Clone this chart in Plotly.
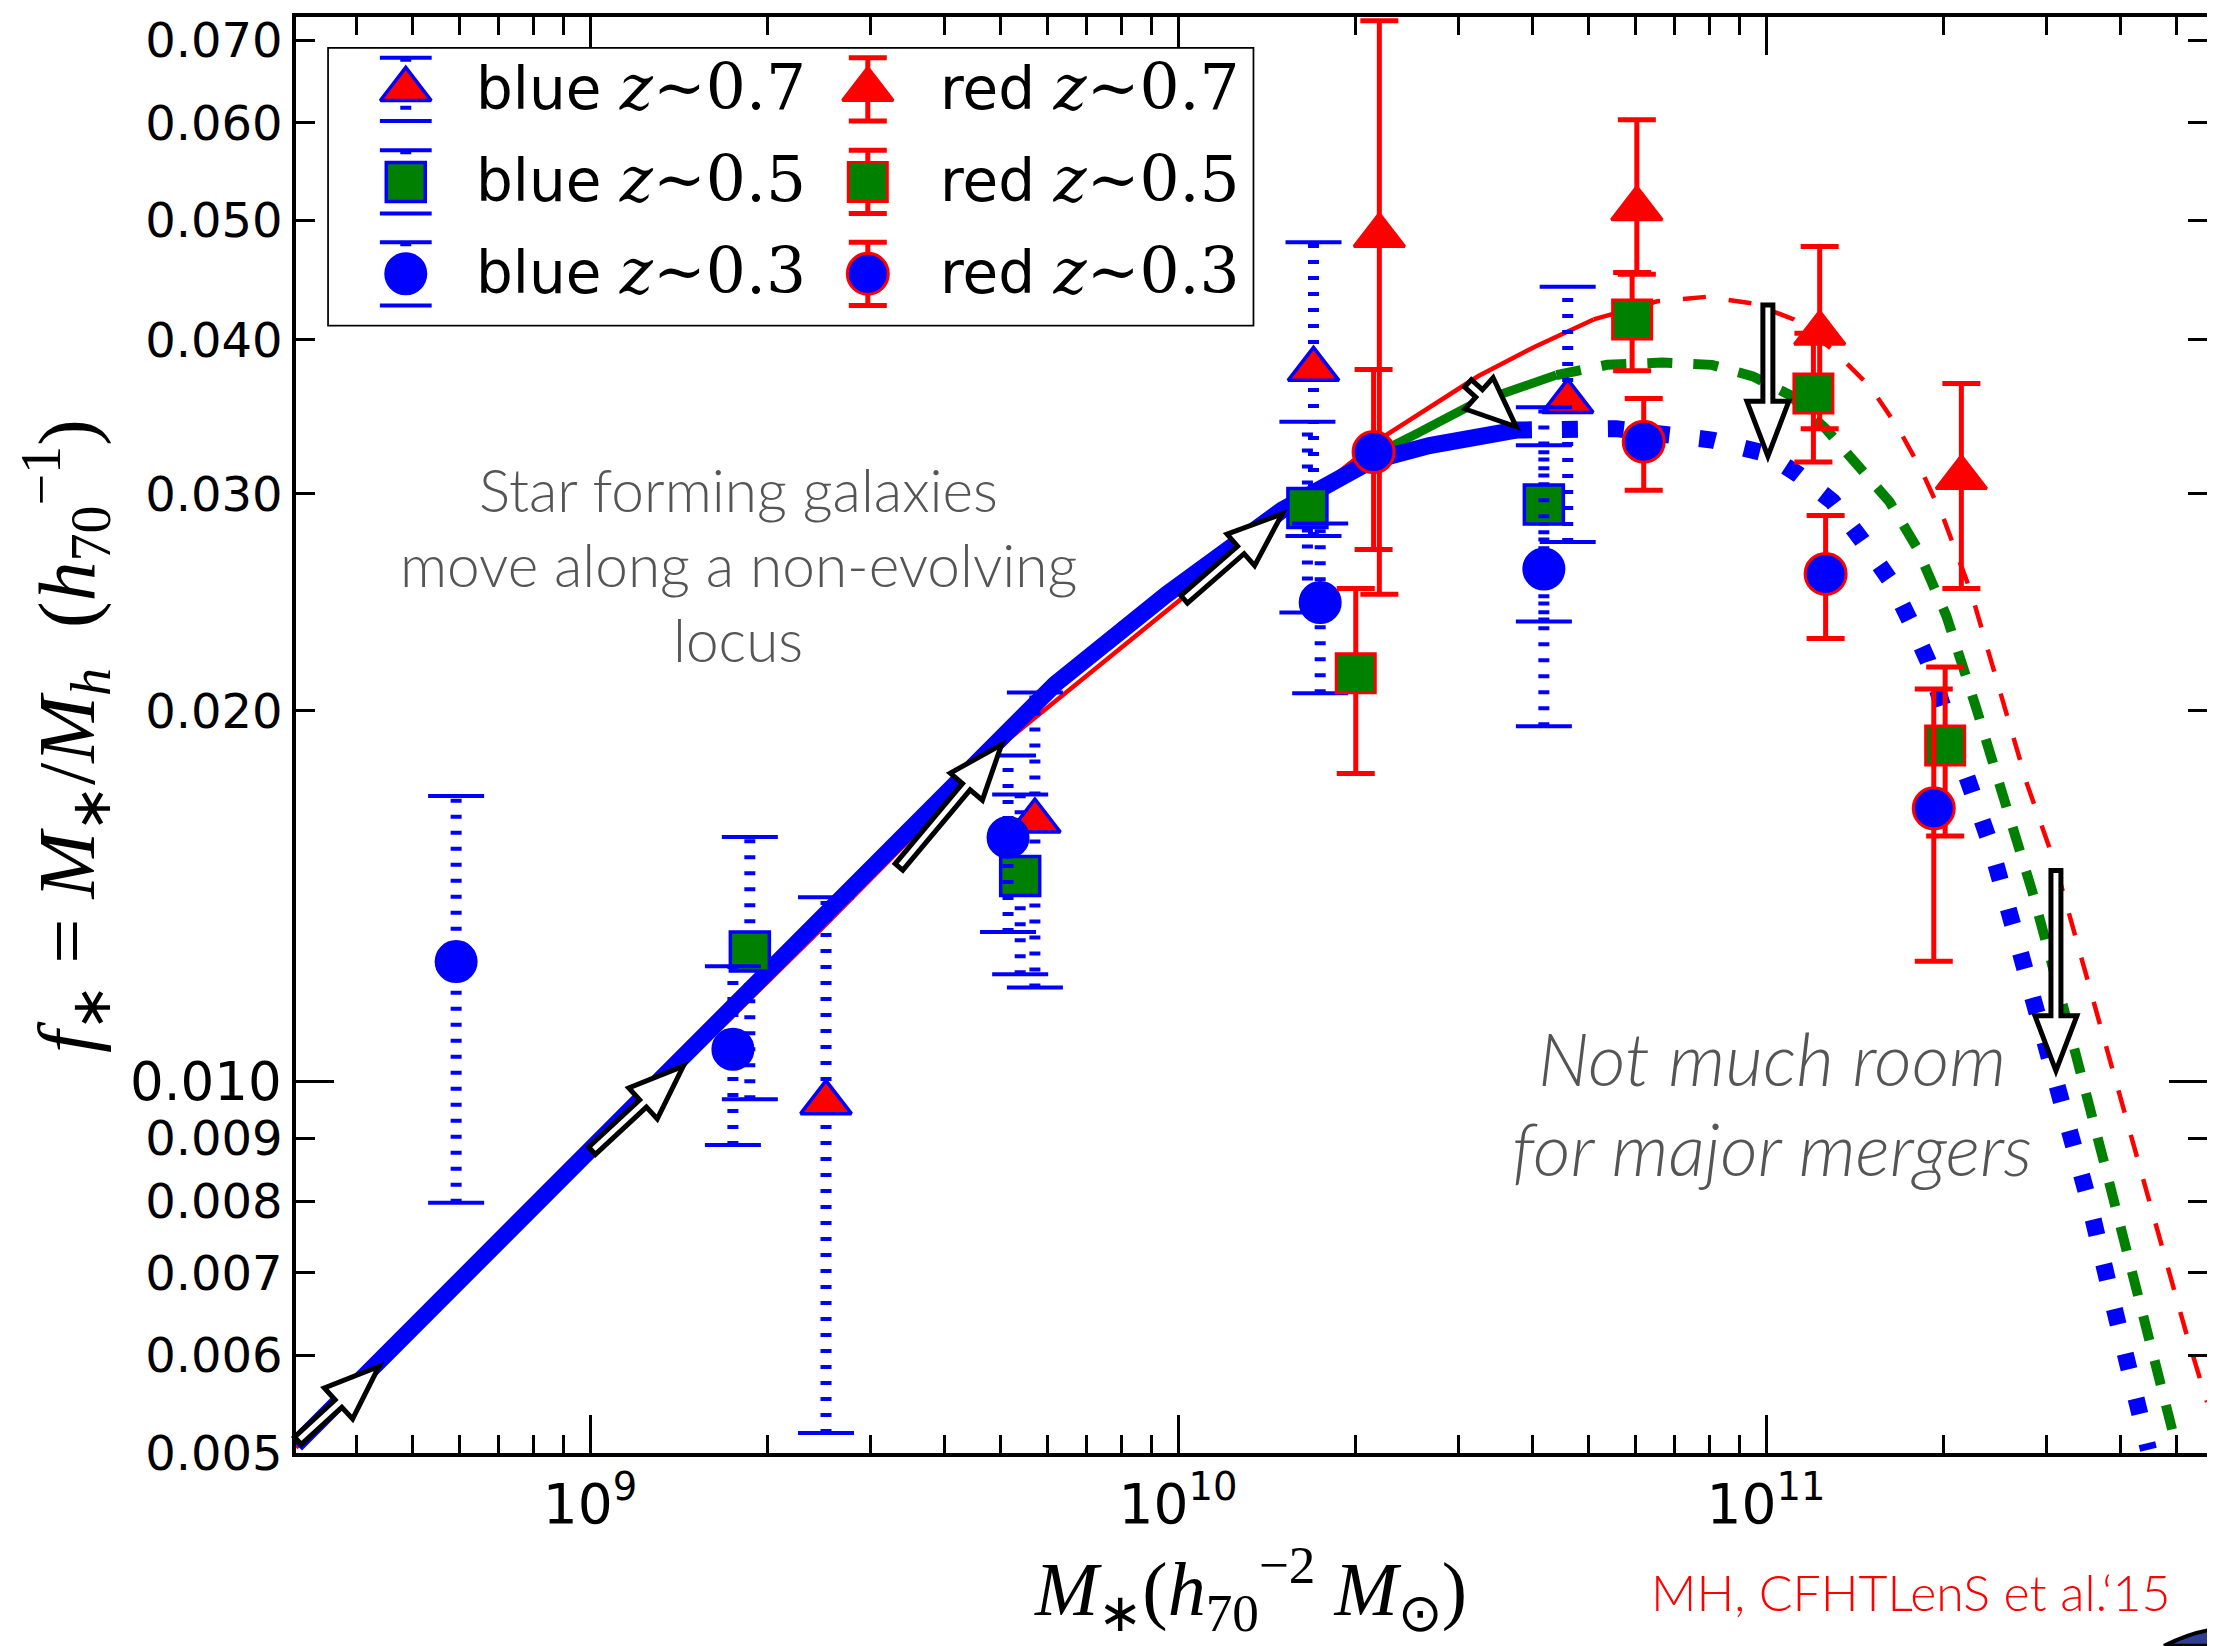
import math
import plotly.graph_objects as go

# ---------------- observations: stellar mass (h70^-2 Msun), f* and error-bar ends ----------------
blue07_mass = [2.52e9, 5.71e9, 1.70e10, 4.60e10]
blue07_fstar = [0.00962, 0.01628, 0.03785, 0.03565]
blue07_upper = [0.01412, 0.02070, 0.04799, 0.04417]
blue07_lower = [0.00519, 0.01193, 0.02773, 0.02742]

blue05_mass = [1.87e9, 5.39e9, 1.66e10, 4.19e10]
blue05_fstar = [0.01276, 0.01469, 0.02921, 0.02940]
blue05_upper = [0.01580, 0.01711, 0.03432, 0.03526]
blue05_lower = [0.00968, 0.01223, 0.02403, 0.02363]

blue03_mass = [5.92e8, 1.75e9, 5.14e9, 1.745e10, 4.19e10]
blue03_fstar = [0.01252, 0.01063, 0.01579, 0.02449, 0.02607]
blue03_upper = [0.01706, 0.01241, 0.01840, 0.02838, 0.03284]
blue03_lower = [0.00798, 0.00889, 0.01323, 0.02067, 0.01943]

red07_mass = [2.20e10, 6.03e10, 1.234e11, 2.149e11]
red07_fstar = [0.04861, 0.05110, 0.04050, 0.03092]
red07_upper = [0.07260, 0.06033, 0.04762, 0.03687]
red07_lower = [0.02487, 0.04520, 0.03387, 0.02514]

red05_mass = [2.006e10, 5.92e10, 1.204e11, 2.017e11]
red05_fstar = [0.02146, 0.04155, 0.03618, 0.01875]
red05_upper = [0.02514, 0.04535, 0.04050, 0.02171]
red05_lower = [0.01779, 0.03776, 0.03183, 0.01583]

red03_mass = [2.151e10, 6.195e10, 1.263e11, 1.929e11]
red03_fstar = [0.03243, 0.03307, 0.02583, 0.01667]
red03_upper = [0.03784, 0.03585, 0.02881, 0.02083]
red03_lower = [0.02704, 0.03020, 0.02289, 0.01253]

# ---------------- model curves: log10 stellar mass and f* ----------------
blue_solid_logm = [8.5, 9.0, 9.5255, 9.7908, 9.9803, 10.1772, 10.3289, 10.4275, 10.5747]
blue_solid_f = [0.00508, 0.00877, 0.01557, 0.02102, 0.02485, 0.02911, 0.03190, 0.03283, 0.03379]
blue_dot_logm = [10.5747, 10.7455, 10.908, 11.0008, 11.0552, 11.1133, 11.1635, 11.21, 11.2448, 11.2757,
                 11.3131, 11.3548, 11.38, 11.4217, 11.4664, 11.5082, 11.55, 11.5863, 11.6254, 11.6505]
blue_dot_f = [0.03379, 0.03388, 0.03317, 0.03233, 0.03110, 0.02956, 0.02749, 0.02557, 0.02367, 0.02194,
              0.01933, 0.01709, 0.01567, 0.01330, 0.01117, 0.00939, 0.00797, 0.00673, 0.00568, 0.00503]

green_solid_logm = [8.5, 9.0, 9.5255, 9.7908, 9.9803, 10.1772, 10.2341, 10.3289, 10.4048, 10.5032, 10.6435]
green_solid_f = [0.00508, 0.00877, 0.01560, 0.02100, 0.02480, 0.02910, 0.03022, 0.03217, 0.03355, 0.03550, 0.03745]
green_dash_logm = [10.6435, 10.7299, 10.8229, 10.908, 10.9778, 11.0396, 11.1015, 11.1635, 11.21, 11.2564,
                   11.3068, 11.3576, 11.4078, 11.4525, 11.4942, 11.536, 11.5751, 11.6141, 11.6531, 11.6949]
green_dash_f = [0.03745, 0.03817, 0.03833, 0.03817, 0.03736, 0.03610, 0.03388, 0.03136, 0.02956, 0.02714,
                0.02388, 0.02010, 0.01683, 0.01429, 0.01207, 0.01019, 0.00860, 0.00727, 0.00611, 0.00513]

red_solid_logm = [8.5, 9.0, 9.4, 9.7149, 9.9954, 10.344, 10.5109, 10.6061, 10.7068]
red_solid_f = [0.00505, 0.00870, 0.01340, 0.01902, 0.02443, 0.03325, 0.03738, 0.03947, 0.04155]
red_dash_logm = [10.7068, 10.8151, 10.9003, 10.9778, 11.0474, 11.1169, 11.1789, 11.2254, 11.2642, 11.3029,
                 11.3492, 11.3995, 11.444, 11.4915, 11.536, 11.5806, 11.6253, 11.6698, 11.7144, 11.75]
red_dash_f = [0.04155, 0.04298, 0.04335, 0.04280, 0.04155, 0.03914, 0.03656, 0.03388, 0.03136, 0.02857,
              0.02492, 0.02066, 0.01744, 0.01504, 0.01263, 0.01062, 0.00892, 0.00746, 0.00626, 0.00550]

# ---------------- evolution arrows (tail -> tip), log10 mass and f* ----------------
arrow_tail_logm = [8.5032, 9.0034, 9.5255, 10.0105, 10.4932, 11.0032, 11.4931]
arrow_tail_f = [0.005116, 0.008794, 0.01494, 0.02463, 0.03687, 0.04269, 0.01484]
arrow_tip_logm = [8.6411, 9.1587, 9.7000, 10.1772, 10.5752, 11.0032, 11.4931]
arrow_tip_f = [0.005878, 0.01030, 0.01878, 0.02890, 0.03400, 0.03218, 0.01021]

# ---------------- axes ticks ----------------
x_major_ticks = [1e9, 1e10, 1e11]
x_major_text = ["10<sup>9</sup>", "10<sup>10</sup>", "10<sup>11</sup>"]
x_minor_ticks = [k * 10 ** e for e in (8, 9, 10, 11) for k in range(2, 10)
                 if 10 ** 8.5 < k * 10 ** e < 10 ** 11.75]
y_ticks = [0.005, 0.006, 0.007, 0.008, 0.009, 0.02, 0.03, 0.04, 0.05, 0.06, 0.07]
y_tick_text = ["%.3f" % v for v in y_ticks]
y_major_tick = [0.010]
y_major_text = ["0.010"]

LOGX_RANGE = [8.5, 11.75]
Y_MIN, Y_MAX = 0.005, 0.0731
LOGY_RANGE = [math.log10(Y_MIN), math.log10(Y_MAX)]

# ---------------- page geometry (the page body has an 8 px default margin) ----------------
PAGE_W, PAGE_H = 2215, 1646
BODY = 8
PLOT_L, PLOT_T, PLOT_R, PLOT_B = 296, 16, 2211, 1453      # plot area on the page
PW, PH = PLOT_R - PLOT_L, PLOT_B - PLOT_T
FIG_W, FIG_H = PAGE_W - BODY, PAGE_H - BODY
ML, MT = PLOT_L - BODY, PLOT_T - BODY
MR, MB = FIG_W - ML - PW, FIG_H - MT - PH

BLUE, RED, GREEN, GREY = "#0000ff", "#ff0000", "#008000", "#555555"


def to_px(logm, f):
    px = PLOT_L + (logm - LOGX_RANGE[0]) / (LOGX_RANGE[1] - LOGX_RANGE[0]) * PW
    py = PLOT_T + (1 - (math.log10(f) - LOGY_RANGE[0]) / (LOGY_RANGE[1] - LOGY_RANGE[0])) * PH
    return px, py


def paper(px, py):
    return (px - PLOT_L) / PW, 1 - (py - PLOT_T) / PH


def arrow_path(lm0, f0, lm1, f1, head_len=55.0, head_hw=21.0, shaft_hw=5.0):
    x0, y0 = to_px(lm0, f0)
    x1, y1 = to_px(lm1, f1)
    L = math.hypot(x1 - x0, y1 - y0)
    ux, uy = (x1 - x0) / L, (y1 - y0) / L
    nx, ny = -uy, ux
    bx, by = x1 - ux * head_len, y1 - uy * head_len
    pts = [(x0 + nx * shaft_hw, y0 + ny * shaft_hw), (bx + nx * shaft_hw, by + ny * shaft_hw),
           (bx + nx * head_hw, by + ny * head_hw), (x1, y1),
           (bx - nx * head_hw, by - ny * head_hw), (bx - nx * shaft_hw, by - ny * shaft_hw),
           (x0 - nx * shaft_hw, y0 - ny * shaft_hw)]
    pp = [paper(a, b) for a, b in pts]
    return "M " + " L ".join("%.5f,%.5f" % p for p in pp) + " Z"


def segs(xs, lo, hi):
    X, Y = [], []
    for x, a, b in zip(xs, lo, hi):
        X += [x, x, None]
        Y += [a, b, None]
    return X, Y


fig = go.Figure()

# ---- model curves ----
def curve(logm, f, color, width, dash, name):
    fig.add_trace(go.Scatter(x=[10 ** v for v in logm], y=f, mode="lines", name=name,
                             line=dict(color=color, width=width, dash=dash),
                             showlegend=False, hoverinfo="skip"))

curve(red_solid_logm, red_solid_f, RED, 4.5, "solid", "red model")
curve(red_dash_logm, red_dash_f, RED, 4.5, "23px,23px", "red model ext")
curve(green_solid_logm, green_solid_f, GREEN, 9, "solid", "green model")
curve(green_dash_logm, green_dash_f, GREEN, 10, "25px,21px", "green model ext")
curve(blue_solid_logm, blue_solid_f, BLUE, 17, "solid", "blue model")
curve(blue_dot_logm, blue_dot_f, BLUE, 17, "16px,30px", "blue model ext")

SYMB = {"0.7": ("triangle-up", RED, 44), "0.5": ("square", GREEN, 39), "0.3": ("circle", BLUE, 41)}

# ---- blue (star forming) points: dotted error bars ----
def blue_series(mass, fs, up, lo, z):
    sym, fill, size = SYMB[z]
    X, Y = segs(mass, lo, up)
    fig.add_trace(go.Scatter(x=X, y=Y, mode="lines", showlegend=False, hoverinfo="skip",
                             line=dict(color=BLUE, width=11, dash="4px,12px")))
    fig.add_trace(go.Scatter(x=list(mass) + list(mass), y=list(lo) + list(up), mode="markers",
                             showlegend=False, hoverinfo="skip",
                             marker=dict(symbol="line-ew", size=40, line=dict(color=BLUE, width=4))))
    fig.add_trace(go.Scatter(x=mass, y=fs, mode="markers", name="blue z~" + z, showlegend=False,
                             marker=dict(symbol=sym, size=size, color=fill,
                                         line=dict(color=BLUE, width=3.5 if z != "0.3" else 2))))


def red_series(mass, fs, up, lo, z):
    sym, fill, size = SYMB[z]
    fig.add_trace(go.Scatter(
        x=mass, y=fs, mode="markers", name="red z~" + z, showlegend=False,
        error_y=dict(type="data", symmetric=False,
                     array=[u - f for u, f in zip(up, fs)],
                     arrayminus=[f - l for f, l in zip(fs, lo)],
                     color=RED, thickness=5, width=19),
        marker=dict(symbol=sym, size=size, color=fill, line=dict(color=RED, width=3))))


blue_series(blue07_mass, blue07_fstar, blue07_upper, blue07_lower, "0.7")
blue_series(blue05_mass, blue05_fstar, blue05_upper, blue05_lower, "0.5")
blue_series(blue03_mass, blue03_fstar, blue03_upper, blue03_lower, "0.3")
red_series(red07_mass, red07_fstar, red07_upper, red07_lower, "0.7")
red_series(red05_mass, red05_fstar, red05_upper, red05_lower, "0.5")
red_series(red03_mass, red03_fstar, red03_upper, red03_lower, "0.3")

# dummy trace so that the overlay axis carrying the long 0.010 tick is drawn
fig.add_trace(go.Scatter(x=[None], y=[None], yaxis="y2", showlegend=False, hoverinfo="skip"))

# ---------------- hand-made legend (own hidden axes, page-pixel units) ----------------
LEG_BOX = (329, 47.8, 1254.6, 324)          # left, top, right, bottom (page px)
leg_cols = {"blue": 406, "red": 869}
leg_rows = {"0.7": 88.5, "0.5": 181, "0.3": 273}
leg_text_x = {"blue": 474, "red": 939}
ERR = 31.6

for side in ("blue", "red"):
    for z in ("0.7", "0.5", "0.3"):
        sym, fill, size = SYMB[z]
        cx, cy = leg_cols[side], leg_rows[z]
        if side == "blue":
            fig.add_trace(go.Scatter(x=[cx, cx], y=[cy - ERR, cy + ERR], mode="lines", xaxis="x3", yaxis="y3",
                                     showlegend=False, hoverinfo="skip",
                                     line=dict(color=BLUE, width=11, dash="4px,12px")))
            fig.add_trace(go.Scatter(x=[cx, cx], y=[cy - ERR, cy + ERR], mode="markers", xaxis="x3", yaxis="y3",
                                     showlegend=False, hoverinfo="skip",
                                     marker=dict(symbol="line-ew", size=37, line=dict(color=BLUE, width=4))))
            fig.add_trace(go.Scatter(x=[cx], y=[cy], mode="markers", xaxis="x3", yaxis="y3",
                                     showlegend=False, hoverinfo="skip",
                                     marker=dict(symbol=sym, size=size, color=fill,
                                                 line=dict(color=BLUE, width=3.5 if z != "0.3" else 2))))
        else:
            fig.add_trace(go.Scatter(x=[cx], y=[cy], mode="markers", xaxis="x3", yaxis="y3",
                                     showlegend=False, hoverinfo="skip",
                                     error_y=dict(type="data", array=[ERR], color=RED, thickness=5, width=19),
                                     marker=dict(symbol=sym, size=size, color=fill, line=dict(color=RED, width=3))))
        fig.add_annotation(x=leg_text_x[side], y=cy - 2, xref="x3", yref="y3", xanchor="left", yanchor="middle",
                           showarrow=False,
                           text=side + ' <span style="font-family:DejaVu Serif;font-size:63px">'
                                       '<i>z</i>∼0.' + z[-1] + '</span>',
                           font=dict(family="DejaVu Sans", size=58, color="black"))

lx0, ly1 = paper(LEG_BOX[0], LEG_BOX[1])
lx1, ly0 = paper(LEG_BOX[2], LEG_BOX[3])

shapes = [dict(type="rect", xref="paper", yref="paper", x0=lx0, x1=lx1, y0=ly0, y1=ly1,
               line=dict(color="black", width=3.5), fillcolor="white", layer="below")]
for a, b, c, d in zip(arrow_tail_logm, arrow_tail_f, arrow_tip_logm, arrow_tip_f):
    hl = 50.0 if math.hypot(*(p - q for p, q in zip(to_px(a, b), to_px(c, d)))) < 80 else 55.0
    shapes.append(dict(type="path", xref="paper", yref="paper", path=arrow_path(a, b, c, d, head_len=hl),
                       line=dict(color="black", width=5), fillcolor="white", layer="above"))

# small cut-off logo fragment in the bottom-right corner
c0 = paper(2168, 1646)
c1 = paper(2194, 1633)
c2 = paper(2215, 1630)
c3 = paper(2215, 1646)
shapes.append(dict(type="path", xref="paper", yref="paper",
                   path="M %.5f,%.5f Q %.5f,%.5f %.5f,%.5f L %.5f,%.5f Z" % (c0 + c1 + c2 + c3),
                   line=dict(color="black", width=4), fillcolor="#2e3f8f", layer="above"))

# ---------------- text ----------------
def ann(px, py, text, size, color=GREY, family="Lato", italic=False, weight=300, angle=0, xanchor="center"):
    x, y = paper(px, py)
    fig.add_annotation(x=x, y=y, xref="paper", yref="paper", text=text, showarrow=False,
                       xanchor=xanchor, yanchor="middle", textangle=angle,
                       font=dict(family=family, size=size, color=color, weight=weight,
                                 style="italic" if italic else "normal"))

ann(739, 488, "Star forming galaxies", 58.5)
ann(739, 563, "move along a non-evolving", 58.5)
ann(739, 638, "locus", 58.5)
ann(1775, 1058, "Not much room", 73, italic=True)
ann(1775, 1148, "for major mergers", 73, italic=True)
ann(1914, 1592, "MH, CFHTLenS et al.‘15", 50, color=RED)

ann(1252, 1590, "<i>M</i><sub>∗</sub>(<i>h</i><sub>70</sub><sup>−2</sup> <i>M</i><sub>⊙</sub>)",
    76, color="black", family="Liberation Serif", weight=400)
ann(66, 735, "<i>f</i><sub>∗</sub> = <i>M</i><sub>∗</sub>/<i>M<sub>h</sub></i>  (<i>h</i><sub>70</sub><sup>−1</sup>)",
    80, color="black", family="Liberation Serif", weight=400, angle=-90)

axis_common = dict(showgrid=False, zeroline=False, showline=True, linecolor="black", linewidth=3.5,
                   mirror="ticks", ticks="inside", tickcolor="black")

fig.update_layout(
    width=FIG_W, height=FIG_H, margin=dict(l=ML, r=MR, t=MT, b=MB, pad=0),
    paper_bgcolor="white", plot_bgcolor="white", showlegend=False,
    font=dict(family="DejaVu Sans", color="black"),
    shapes=shapes,
    xaxis=dict(type="log", range=LOGX_RANGE, tickmode="array", tickvals=x_major_ticks, ticktext=x_major_text,
               ticklen=38, tickwidth=3, tickfont=dict(size=55, family="DejaVu Sans"),
               minor=dict(ticks="inside", ticklen=18, tickwidth=2.5, tickcolor="black",
                          tickmode="array", tickvals=x_minor_ticks, showgrid=False),
               **axis_common),
    yaxis=dict(type="log", range=LOGY_RANGE, tickmode="array", tickvals=y_ticks, ticktext=y_tick_text,
               ticklen=19, tickwidth=2.5, tickfont=dict(size=48, family="DejaVu Sans"), **axis_common),
    yaxis2=dict(type="log", range=LOGY_RANGE, overlaying="y", side="left", tickmode="array",
                tickvals=y_major_tick, ticktext=y_major_text, ticklen=38, tickwidth=2.5,
                tickfont=dict(size=53, family="DejaVu Sans"), **axis_common),
    xaxis3=dict(domain=[lx0, lx1], anchor="y3", range=[LEG_BOX[0], LEG_BOX[2]], visible=False, fixedrange=True),
    yaxis3=dict(domain=[ly0, ly1], anchor="x3", range=[LEG_BOX[3], LEG_BOX[1]], visible=False, fixedrange=True),
)

fig.write_html("out.html")
